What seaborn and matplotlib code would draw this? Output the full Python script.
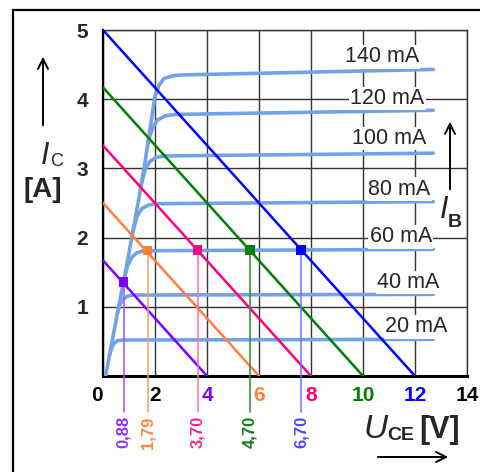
import pandas as pd
import matplotlib.pyplot as plt
import seaborn as sns
from matplotlib.patches import Rectangle

# Output characteristics: U_CE [V], I_C [A]
rise_u = [0.1, 0.5, 0.91, 1.3, 1.6, 2.0]
rise_i = [0.0, 0.8, 1.6, 2.4, 3.05, 4.04]

ib_labels = ['20 mA', '40 mA', '60 mA', '80 mA', '100 mA', '120 mA', '140 mA']
curve_u = [
    [0.25, 0.33, 0.42, 0.55, 0.75, 12.7],
    [0.55, 0.65, 0.78, 0.92, 1.15, 12.7],
    [0.8, 0.95, 1.12, 1.3, 1.55, 12.7],
    [1.12, 1.3, 1.5, 1.75, 2.05, 12.7],
    [1.45, 1.62, 1.8, 2.05, 2.4, 12.7],
    [1.73, 1.9, 2.1, 2.4, 2.8, 12.7],
    [2.0, 2.15, 2.35, 2.7, 3.0, 12.7],
]
curve_i = [
    [0.3, 0.4, 0.47, 0.51, 0.52, 0.53],
    [0.9, 1.03, 1.11, 1.15, 1.17, 1.18],
    [1.38, 1.6, 1.72, 1.78, 1.81, 1.83],
    [2.04, 2.3, 2.42, 2.47, 2.49, 2.52],
    [2.73, 2.98, 3.1, 3.16, 3.18, 3.22],
    [3.37, 3.58, 3.7, 3.76, 3.78, 3.84],
    [4.04, 4.2, 4.3, 4.34, 4.35, 4.43],
]
label_u = [12.06, 11.74, 11.45, 11.4, 11.01, 10.94, 10.72]
label_i = [0.71, 1.35, 2.01, 2.70, 3.43, 4.01, 4.61]

# Load lines: supply voltage and short-circuit current
vcc = [4, 6, 8, 10, 12]
ic_short = [1.67, 2.5, 3.33, 4.17, 5.0]
load_colors = ['#8000ff', '#ff8040', '#ff0080', '#008000', '#0000ff']
drop_colors = ['#a050ff', '#ff9c60', '#ff70b0', '#2e8b2e', '#7070ff']
value_colors = ['#9030ff', '#ff8840', '#ff2a8a', '#108010', '#4a4aff']

# Operating points
op_u = [0.80, 1.72, 3.64, 5.65, 7.62]
op_i = [1.36, 1.81, 1.82, 1.82, 1.82]
op_text = ['0,88', '1,79', '3,70', '4,70', '6,70']

xtick_colors = ['black', 'black', '#8000ff', '#ff8040', '#ff0080', '#008000', '#0000ff', 'black']

sns.set_style('white')
plt.rcParams['font.family'] = ['Liberation Sans', 'DejaVu Sans']

W, H = 481, 472
fig = plt.figure(figsize=(W / 100, H / 100), dpi=100)
ax = fig.add_axes([103 / W, 1 - 376 / H, 364 / W, 346 / H])

# characteristic curves
rows = [(u, i, 'rise') for u, i in zip(rise_u, rise_i)]
for name, us, is_ in zip(ib_labels, curve_u, curve_i):
    rows += [(u, i, name) for u, i in zip(us, is_)]
curves = pd.DataFrame(rows, columns=['U', 'I', 'curve'])
sns.lineplot(data=curves, x='U', y='I', units='curve', estimator=None,
             color='#74a2e6', lw=2.6, ax=ax, zorder=3)

# load lines
load = pd.DataFrame({
    'U': [0] * len(vcc) + vcc,
    'I': ic_short + [0] * len(vcc),
    'Vcc': vcc * 2,
})
sns.lineplot(data=load, x='U', y='I', hue='Vcc', palette=load_colors,
             lw=1.8, legend=False, ax=ax, zorder=4)

# drop lines, markers and values
for u, i, dc, tc, t in zip(op_u, op_i, drop_colors, value_colors, op_text):
    ax.plot([u, u], [i, -0.52], color=dc, lw=1.1, clip_on=False, zorder=4)
    ax.text(u, -0.58, t, rotation=90, ha='center', va='top', color=tc,
            fontsize=12, fontweight='bold')
ops = pd.DataFrame({'U': op_u, 'I': op_i, 'c': op_text})
sns.scatterplot(data=ops, x='U', y='I', hue='c', palette=load_colors, marker='s',
                s=45, linewidth=0, legend=False, ax=ax, zorder=5)

for t, x, y in zip(ib_labels, label_u, label_i):
    ax.text(x, y, t, ha='center', va='center', fontsize=15.5, zorder=6,
            bbox=dict(fc='white', ec='none', pad=1))

ax.set_xlim(0, 14)
ax.set_ylim(0, 5)
ax.set_xticks(range(0, 15, 2))
ax.set_yticks(range(0, 6))
ax.set_yticklabels(['', '1', '2', '3', '4', '5'], fontsize=15, fontweight='bold')
ax.set_xticklabels([str(v) for v in range(0, 15, 2)], fontsize=15, fontweight='bold')
for lab, c in zip(ax.get_xticklabels(), xtick_colors):
    lab.set_color(c)
ax.get_xticklabels()[0].set_ha('right')
ax.set_xlabel('')
ax.set_ylabel('')
ax.grid(True, color='#333333', lw=1)
ax.set_axisbelow(True)
for s in ['top', 'right']:
    ax.spines[s].set_color('#333333')
    ax.spines[s].set_linewidth(1)
ax.spines['left'].set_color('black')
ax.spines['left'].set_linewidth(1.6)
ax.spines['bottom'].set_color('black')
ax.spines['bottom'].set_linewidth(2.2)
ax.tick_params(axis='y', length=7.2, width=1, color='#333333', pad=3.5)
ax.tick_params(axis='x', length=5, width=1, color='#333333', pad=2)

# outer frame
fig.add_artist(Rectangle((13 / W, -0.1), 1.2, 1.1 - 10 / H, transform=fig.transFigure,
                         fill=False, ec='black', lw=1.6))


def fx(px):
    return px / W


def fy(py):
    return 1 - py / H


arrow = dict(arrowstyle='->', lw=1.4, color='black', mutation_scale=18)

# I_C [A]
ax.annotate('', xy=(fx(43), fy(54)), xytext=(fx(43), fy(128)), xycoords='figure fraction',
            arrowprops=arrow)
fig.text(fx(45), fy(156), 'I', fontsize=22, style='italic', ha='center', va='center')
fig.text(fx(57), fy(162), 'C', fontsize=13, ha='center', va='center')
fig.text(fx(43), fy(190), '[A]', fontsize=20, fontweight='bold', ha='center', va='center')

# I_B
ax.annotate('', xy=(fx(450), fy(119)), xytext=(fx(450), fy(192)), xycoords='figure fraction',
            arrowprops=arrow)
fig.text(fx(444), fy(210), 'I', fontsize=22, style='italic', ha='center', va='center')
fig.text(fx(455), fy(223), 'B', fontsize=14, fontweight='bold', ha='center', va='center')

# U_CE [V]
fig.text(fx(376), fy(429), 'U', fontsize=24, style='italic', ha='center', va='center')
fig.text(fx(401), fy(436), 'CE', fontsize=14, fontweight='bold', ha='center', va='center')
fig.text(fx(440), fy(430), '[V]', fontsize=22, fontweight='bold', ha='center', va='center')
ax.annotate('', xy=(fx(451), fy(457)), xytext=(fx(375), fy(457)), xycoords='figure fraction',
            arrowprops=arrow)

fig.savefig('out.png', dpi=100)
